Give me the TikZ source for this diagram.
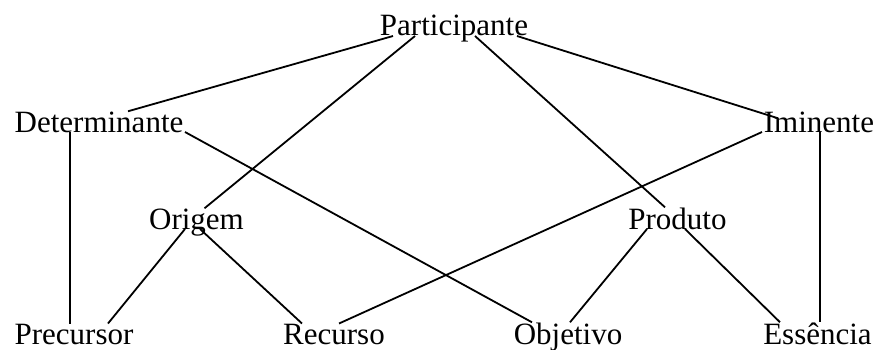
\documentclass[tikz,border=0pt]{standalone}
\usepackage{fontspec}
\setmainfont{Liberation Serif}

\tikzset{
	role/.style = {inner sep=0pt, anchor=base, font=\fontsize{31}{37}\selectfont},
	link/.style = {line width=1.8pt}
}

\begin{document}
\begin{tikzpicture}[x=1pt,y=1pt]
%
	\useasboundingbox (0,0) rectangle (877,349);
	\node[role] (part) at (454,313) {Participante};
	\node[role] (det) at (99,217) {Determinante};
	\node[role] (imin) at (819,217) {Iminente};
	\node[role] (orig) at (196.5,120) {Origem};
	\node[role] (prod) at (677.5,120) {Produto};
	\node[role] (prec) at (74,5) {Precursor};
	\node[role] (rec) at (334,5) {Recurso};
	\node[role] (obj) at (568,5) {Objetivo};
	\node[role] (ess) at (817.5,5) {Essência};
%
	\draw[link] ([xshift=-61pt]part.base) -- ([xshift=29pt]det.north);
	\draw[link] ([xshift=-39pt]part.base) -- ([xshift=8pt]orig.north);
	\draw[link] ([xshift=21pt]part.base) -- ([xshift=-12.5pt]prod.north);
	\draw[link] ([xshift=63pt]part.base) -- ([xshift=-41pt,yshift=-7pt]imin.north);
%
	\draw[link] ([xshift=-29pt]det.base) -- ([xshift=-4pt]prec.north);
	\draw[link] ([xshift=86pt]det.base) -- ([xshift=-36pt]obj.north);
	\draw[link] ([xshift=-57pt]imin.base) -- ([xshift=5pt]rec.north);
	\draw[link] ([xshift=1pt]imin.base) -- ([xshift=2.5pt]ess.north);
%
	\draw[link] ([xshift=-11.5pt]orig.base) -- ([xshift=34pt]prec.north);
	\draw[link] ([xshift=3.5pt]orig.base) -- ([xshift=-32pt]rec.north);
	\draw[link] ([xshift=-30.5pt]prod.base) -- ([xshift=2pt]obj.north);
	\draw[link] ([xshift=7.5pt]prod.base) -- ([xshift=-37.5pt]ess.north);
%
\end{tikzpicture}
\end{document}
